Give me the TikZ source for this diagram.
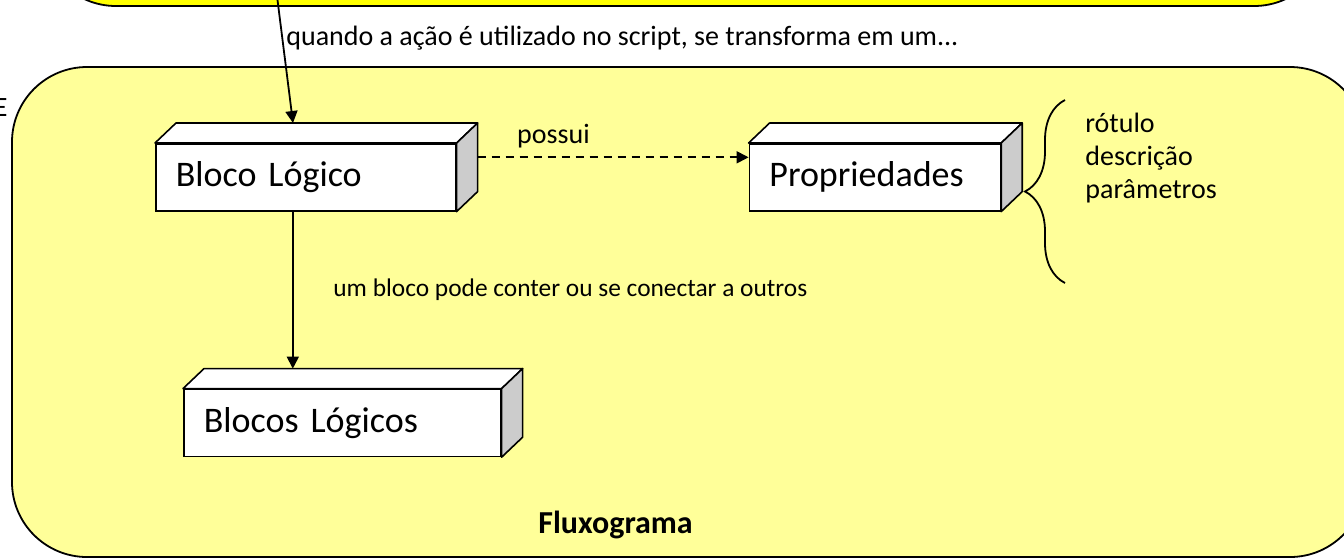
\documentclass[tikz,border=0pt]{standalone}
\usepackage{fontspec}
\setmainfont{Carlito}
\usetikzlibrary{positioning,arrows.meta,decorations.pathreplacing}

\definecolor{fundo}{HTML}{FFFF99}
\definecolor{destaque}{HTML}{FFFF00}
\definecolor{lateral}{HTML}{CCCCCC}

\tikzset{
  bloco/.style={draw, fill=white, line width=0.8pt, anchor=north west,
    text width=#1, align=left, inner xsep=10pt, minimum height=33.5pt,
    font=\fontsize{18}{22}\selectfont},
  face/.style={draw, line width=0.8pt, line join=round},
  seta/.style={-{Triangle[length=6pt,width=6pt]}, line width=0.9pt},
  rotulo/.style={inner sep=0pt, font=\fontsize{12.7}{16.5}\selectfont},
  grande/.style={rotulo, font=\fontsize{14}{16.5}\selectfont},
}

\begin{document}
\begin{tikzpicture}[x=0.5pt, y=-0.5pt]
  \useasboundingbox (0,0) rectangle (1344,559);

  % molduras
  \draw[fill=destaque, line width=0.9pt, rounded corners=37.5pt] (41,-160) rectangle (1329,6);
  \draw[fill=fundo, line width=0.9pt, rounded corners=37.5pt] (12,67) rectangle (1365,557);
  \node[grande, anchor=base east] (corte) at (8,116) {E};

  % blocos
  \node[bloco=130pt] (bl) at (155,143) {Bloco Lógico};
  \node[bloco=105.5pt, right=146pt of bl] (pr) {Propriedades};
  \node[bloco=138.5pt, below=88.5pt of bl.south west, anchor=north west, xshift=14pt] (bls) {Blocos Lógicos};

  \foreach \n in {bl,pr,bls} {
    \draw[face, fill=white] (\n.north west) -- ++(21,-20) -- ([shift={(21,-20)}]\n.north east) -- (\n.north east) -- cycle;
    \draw[face, fill=lateral] (\n.north east) -- ++(21,-20) -- ([shift={(21,-20)}]\n.south east) -- (\n.south east) -- cycle;
  }

  % ligacoes
  \coordinate (origem) at (277,-4);
  \coordinate (entrada) at (293,123);
  \draw[seta] (origem) -- (entrada);
  \draw[seta] ([xshift=-6.5pt]bl.south) -- ([xshift=-6.5pt, yshift=10pt]bl.south |- bls.north);
  \draw[seta, dash pattern=on 4pt off 3pt] ([shift={(21,-20)}]bl.east) -- ([yshift=10pt]pr.west)
    node[grande, above=4pt, pos=0.28] (possui) {possui};
  \draw[decorate, decoration={brace, amplitude=20pt}, line width=0.9pt] (1065,283) -- (1065,100);

  % textos
  \node[grande, anchor=base west] (acao) at (286,45) {quando a ação é utilizado no script, se transforma em um...};
  \node[rotulo, anchor=base west] (conexao) at (333,296) {um bloco pode conter ou se conectar a outros};
  \node[grande, anchor=base west, align=left] (lista) at (1085,198) {rótulo\\descrição\\parâmetros};
  \node[font=\bfseries\fontsize{16}{20}\selectfont, inner sep=0pt, anchor=base west] (titulo) at (538,533) {Fluxograma};
\end{tikzpicture}
\end{document}
